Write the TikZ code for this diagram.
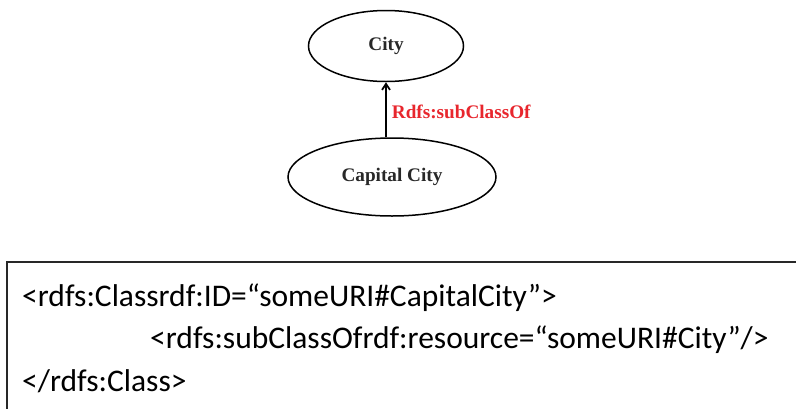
\documentclass[tikz,border=0pt]{standalone}
\usepackage{fontspec}
\setmainfont{Liberation Serif}
\newfontfamily\codefont{Carlito}
\usetikzlibrary{shapes.geometric,arrows.meta}
\definecolor{relred}{RGB}{232,38,45}
\definecolor{inkgray}{RGB}{40,40,40}
\tikzset{
  classnode/.style={draw=black, line width=1.5pt, ellipse, inner sep=0pt,
    font=\fontsize{19.2}{20}\selectfont\bfseries, text=inkgray},
  codeline/.style={anchor=west, inner sep=0pt,
    font=\codefont\fontsize{31.5}{34}\selectfont, text=black},
}
\begin{document}
\begin{tikzpicture}[x=1pt, y=-1pt]
  \clip (0,0) rectangle (796,408);
  \fill[white] (0,0) rectangle (796,408);

  % class hierarchy
  \node[classnode, minimum width=155pt, minimum height=71pt] (city) at (386,46) {City};
  \node[classnode, minimum width=208pt, minimum height=78pt] (cap) at (392,177) {Capital City};
  \draw[line width=1.8pt, -{Straight Barb[length=6pt, width=8pt]}]
    (cap.north -| city.south) -- (city.south)
    node[pos=0.47, right=5pt, inner sep=0pt, text=relred,
         font=\fontsize{19.2}{20}\selectfont\bfseries] (rel) {Rdfs:subClassOf};

  % RDF/XML listing
  \draw[line width=1.3pt, draw=inkgray] (7,430) -- (7,262) -- (820,262);
  \node[codeline] (l1) at (22,298) {<rdfs:Classrdf:ID=“someURI\#CapitalCity”>};
  \node[codeline] (l2) at (150,340) {<rdfs:subClassOfrdf:resource=“someURI\#City”/>};
  \node[codeline] (l3) at (22,381) {</rdfs:Class>};
\end{tikzpicture}
\end{document}
